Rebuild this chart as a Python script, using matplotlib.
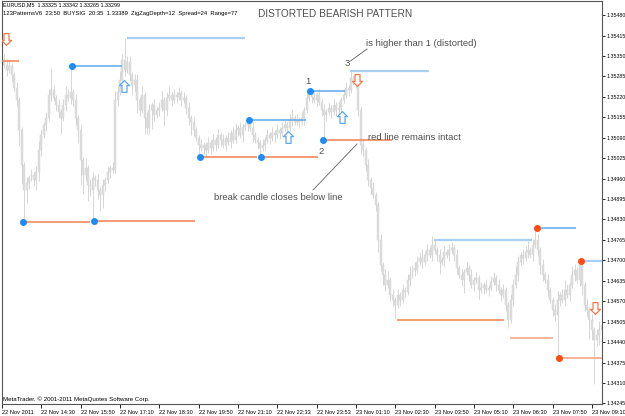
import matplotlib
matplotlib.use('Agg')
import matplotlib.pyplot as plt
from matplotlib.path import Path
from matplotlib.lines import Line2D
import numpy as np

# ---- chart data (EURUSD M5) ----
first_open = 1.35340
close = [
    1.35331, 1.35321, 1.35305, 1.35318, 1.35289, 1.35248, 1.35210, 1.35114, 1.35003, 1.34924,
    1.34946, 1.34962, 1.34971, 1.34955, 1.34981, 1.35051, 1.35098, 1.35130, 1.35152, 1.35226,
    1.35242, 1.35216, 1.35194, 1.35172, 1.35152, 1.35194, 1.35226, 1.35216, 1.35235, 1.35210,
    1.35152, 1.35114, 1.35019, 1.34971, 1.34994, 1.34939, 1.34924, 1.34962, 1.34955, 1.34924,
    1.34908, 1.34939, 1.34955, 1.34981, 1.34994, 1.34987, 1.35210, 1.35235, 1.35273, 1.35337,
    1.35305, 1.35331, 1.35289, 1.35257, 1.35273, 1.35210, 1.35178, 1.35226, 1.35152, 1.35121,
    1.35178, 1.35194, 1.35162, 1.35178, 1.35184, 1.35210, 1.35178, 1.35216, 1.35226, 1.35210,
    1.35226, 1.35219, 1.35232, 1.35210, 1.35216, 1.35184, 1.35152, 1.35140, 1.35114, 1.35089,
    1.35067, 1.35057, 1.35067, 1.35051, 1.35073, 1.35057, 1.35083, 1.35067, 1.35098, 1.35083,
    1.35067, 1.35089, 1.35076, 1.35105, 1.35083, 1.35114, 1.35121, 1.35098, 1.35124, 1.35130,
    1.35137, 1.35121, 1.35098, 1.35083, 1.35073, 1.35057, 1.35067, 1.35083, 1.35098, 1.35089,
    1.35105, 1.35098, 1.35114, 1.35105, 1.35121, 1.35130, 1.35121, 1.35146, 1.35152, 1.35140,
    1.35146, 1.35140, 1.35152, 1.35178, 1.35216, 1.35232, 1.35219, 1.35210, 1.35226, 1.35203,
    1.35178, 1.35162, 1.35172, 1.35184, 1.35172, 1.35194, 1.35178, 1.35184, 1.35210, 1.35226,
    1.35248, 1.35242, 1.35280, 1.35267, 1.35273, 1.35178, 1.35067, 1.35051, 1.35003, 1.34955,
    1.34930, 1.34908, 1.34876, 1.34765, 1.34685, 1.34653, 1.34621, 1.34637, 1.34590, 1.34574,
    1.34558, 1.34590, 1.34574, 1.34606, 1.34599, 1.34637, 1.34653, 1.34675, 1.34669, 1.34695,
    1.34707, 1.34695, 1.34717, 1.34733, 1.34717, 1.34749, 1.34733, 1.34717, 1.34695, 1.34701,
    1.34726, 1.34717, 1.34733, 1.34739, 1.34717, 1.34675, 1.34653, 1.34637, 1.34663, 1.34675,
    1.34653, 1.34621, 1.34637, 1.34644, 1.34606, 1.34612, 1.34621, 1.34606, 1.34612, 1.34631,
    1.34644, 1.34621, 1.34606, 1.34590, 1.34606, 1.34558, 1.34510, 1.34574, 1.34621, 1.34653,
    1.34695, 1.34717, 1.34707, 1.34726, 1.34733, 1.34717, 1.34749, 1.34765, 1.34733, 1.34685,
    1.34653, 1.34637, 1.34606, 1.34574, 1.34542, 1.34526, 1.34574, 1.34590, 1.34574, 1.34606,
    1.34590, 1.34621, 1.34653, 1.34669, 1.34637, 1.34685, 1.34621, 1.34558, 1.34542, 1.34510,
    1.34478, 1.34447, 1.34462, 1.34478, 1.34494,
]
# wick lengths beyond the candle body, in pips
upper_wick = [
    8, 3, 2, 2, 1, 1, 2, 1, 1, 1,
    2, 1, 2, 1, 2, 3, 2, 1, 2, 2,
    7, 2, 1, 2, 1, 2, 3, 2, 8, 1,
    2, 1, 2, 1, 3, 1, 2, 2, 1, 2,
    1, 2, 1, 2, 1, 2, 3, 2, 3, 2,
    7, 2, 2, 1, 2, 2, 1, 3, 1, 2,
    2, 1, 2, 1, 2, 3, 1, 2, 3, 1,
    2, 1, 2, 1, 2, 1, 2, 1, 2, 1,
    1, 2, 1, 1, 2, 1, 2, 1, 2, 1,
    2, 1, 2, 1, 2, 2, 1, 2, 1, 1,
    1.2, 1, 2, 1, 1, 1, 2, 1, 2, 1,
    2, 1, 2, 1, 2, 2, 1, 2, 3, 1,
    2, 1, 2, 1, 2, 0.6, 1, 2, 1, 2,
    1, 2, 1, 2, 1, 2, 1, 2, 1, 2,
    2, 1, 2.2, 1, 1, 1, 1, 2, 1, 2,
    1, 2, 1, 1, 2, 1, 2, 3, 1, 2,
    1, 2, 1, 2, 1, 2, 3, 1, 2, 2,
    2, 3, 1, 2, 1, 3, 2, 1, 2, 1,
    2, 1, 2, 2, 1, 2, 1, 2, 1, 2,
    1, 2, 1, 2, 1, 2, 1, 2, 1, 2,
    2, 1, 2, 1, 2, 1, 1, 2, 2, 3,
    2, 1, 2, 2, 3, 1, 2, 4, 2, 1,
    2, 1, 2, 1, 1, 2, 3, 1, 2, 3,
    2, 1, 3, 2, 1, 1.3, 2, 1, 2, 1,
    2, 1, 2, 3, 2,
]
lower_wick = [
    2, 1, 2, 1, 2, 1, 2, 5, 6, 10,
    4, 2, 1, 2, 3, 3, 2, 1, 2, 1,
    2, 1, 2, 2, 5, 1, 2, 1, 2, 2,
    2, 4, 8, 6, 2, 5, 2, 10, 2, 3,
    5, 4, 2, 1, 2, 1, 1, 2, 1, 2,
    2, 1, 2, 3, 2, 4, 2, 1, 5, 2,
    2, 6, 2, 1, 2, 1, 5, 2, 1, 2,
    1, 2, 1, 2, 1, 2, 2, 4, 2, 1,
    4, 1, 2, 2, 1, 2, 1, 2, 1, 2,
    1, 2, 1, 2, 1, 1, 2, 1, 2, 1,
    2, 1, 2, 1, 2, 3, 1, 2, 1, 2,
    1, 2, 1, 2, 1, 1, 2, 1, 2, 1,
    1, 2, 1, 2, 1, 1, 2, 1, 2, 1,
    2, 8, 2, 1, 2, 1, 2, 1, 2, 1,
    1, 2, 1, 1, 2, 2, 3, 2, 2, 2,
    2, 1, 2, 4, 2, 3, 2, 1, 2, 2,
    4, 1, 2, 1, 2, 1, 2, 1, 2, 1,
    1, 2, 1, 2, 1, 2, 1, 2, 4, 1,
    2, 1, 2, 1, 2, 2, 1, 2, 4, 1,
    2, 1, 2, 1, 3, 1, 2, 1, 2, 1,
    1, 2, 1, 2, 1, 2, 2.6, 1, 2, 1,
    2, 1, 2, 1, 2, 1, 2, 1, 2, 3,
    2, 1, 2, 1, 2, 2, 14, 2, 1, 2,
    1, 2, 1, 2, 1, 2, 3, 2, 2, 6,
    3, 14, 2, 3, 2,
]

time_labels = ['22 Nov 2011', '22 Nov 14:30', '22 Nov 15:50', '22 Nov 17:10', '22 Nov 18:30',
               '22 Nov 19:50', '22 Nov 21:10', '22 Nov 22:33', '22 Nov 23:53', '23 Nov 01:10',
               '23 Nov 02:30', '23 Nov 03:50', '23 Nov 05:10', '23 Nov 06:30', '23 Nov 07:50',
               '23 Nov 09:10']
bars_per_label = 16
price_ticks = [1.34245 + 0.00065 * k for k in range(20)]

# pattern levels: start bar, end bar, price, kind
level_start = [0, 28.5, 50.8, 8.5, 37.4, 80.5, 105.3, 100.5, 125.3, 130.6,
               141.5, 175.7, 160.7, 206.6, 217.6, 235.5, 226.6]
level_end = [6.9, 48.8, 98.8, 35.8, 78.5, 103.7, 128.5, 123.7, 139.5, 158.6,
             173.7, 215.6, 204.2, 224.1, 233.5, 245.0, 245.0]
level_price = [1.35334, 1.35318, 1.35407, 1.34822, 1.34825, 1.35028, 1.35028, 1.35146, 1.35238, 1.35083,
               1.35302, 1.34765, 1.34510, 1.34453, 1.34803, 1.34698, 1.34389]
level_kind = ['res', 'sup', 'sup_old', 'res', 'res', 'res', 'res', 'sup', 'sup', 'res',
              'sup_old', 'sup_old', 'res', 'res_old', 'sup', 'sup_old', 'res_old']

# swing points (dots)
swing_bar = [28.5, 8.5, 37.4, 80.5, 105.3, 100.5, 125.3, 130.6, 217.6, 235.5, 226.6]
swing_price = [1.35318, 1.34822, 1.34825, 1.35028, 1.35028, 1.35146, 1.35238, 1.35083, 1.34803, 1.34698, 1.34389]
swing_side = ['buy'] * 8 + ['sell'] * 3

# signal arrows
arrow_bar = [1.6, 49.6, 116.3, 138.3, 144.4, 241.2]
arrow_price = [1.35404, 1.35254, 1.35092, 1.35156, 1.35273, 1.34548]
arrow_dir = ['down', 'up', 'up', 'up', 'down', 'down']

# ---- styles ----
level_colors = {'res': '#f2804f', 'res_old': '#f5a888', 'sup': '#5fa8ee', 'sup_old': '#a9d0f3'}
level_widths = {'res': 1.1, 'res_old': 1.2, 'sup': 1.1, 'sup_old': 1.6}
dot_colors = {'buy': '#1e8cf5', 'sell': '#ff4a12'}
arrow_colors = {'up': '#5aa8f0', 'down': '#f27a4a'}
text_gray = '#505050'
tick_font = ['Liberation Sans Narrow', 'Liberation Sans', 'DejaVu Sans']
note_font = ['Liberation Sans', 'DejaVu Sans']

W, H = 625, 416


def px(x, y):
    """pixel position in the screenshot -> figure fraction"""
    return x / W, 1 - y / H


fig = plt.figure(figsize=(W / 100, H / 100), dpi=100)
fig.patch.set_facecolor('white')
ax = fig.add_axes([2 / W, 12 / H, 600 / W, 403 / H])

# candles
c = np.array(close)
o = np.concatenate([[first_open], c[:-1]])
idx = np.arange(len(c))
top = np.maximum(o, c)
bot = np.minimum(o, c)
hi = top + np.array(upper_wick) * 0.0001
lo = bot - np.array(lower_wick) * 0.0001
ax.vlines(idx, lo, hi, color='#d6d6d6', linewidth=0.7, zorder=1)
ax.bar(idx, np.maximum(top - bot, 0.00002), bottom=bot, width=0.8,
       color='#dedede', edgecolor='#d2d2d2', linewidth=0.3, zorder=2)

# levels
for s, e, p, k in zip(level_start, level_end, level_price, level_kind):
    ax.plot([s, e], [p, p], color=level_colors[k], linewidth=level_widths[k],
            solid_capstyle='butt', zorder=3)

# dots
for b, p, side in zip(swing_bar, swing_price, swing_side):
    ax.plot(b, p, 'o', color=dot_colors[side], markersize=4, zorder=4)

# hollow arrows
up_arrow = Path([(0, 1), (0.85, 0.15), (0.42, 0.15), (0.42, -1), (-0.42, -1),
                 (-0.42, 0.15), (-0.85, 0.15), (0, 1)],
                [Path.MOVETO] + [Path.LINETO] * 6 + [Path.CLOSEPOLY])
down_arrow = Path(up_arrow.vertices * np.array([1, -1]), up_arrow.codes)
for b, p, d in zip(arrow_bar, arrow_price, arrow_dir):
    ax.plot(b, p, marker=up_arrow if d == 'up' else down_arrow, markersize=8.5,
            markerfacecolor='white', markeredgecolor=arrow_colors[d],
            markeredgewidth=0.9, linestyle='none', zorder=5)

# axes
ax.set_xlim(0, 244.1)
ax.set_ylim(1.34243, 1.35525)
ax.set_facecolor('white')
for sp in ax.spines.values():
    sp.set_color('#555555')
    sp.set_linewidth(0.8)
ax.yaxis.tick_right()
ax.set_yticks(price_ticks)
ax.set_yticklabels([f'{v:.5f}' for v in price_ticks], family=tick_font, fontsize=3.8)
ax.tick_params(axis='y', length=2, width=0.6, pad=1.0, colors='black')
ax.set_xticks([i * bars_per_label for i in range(len(time_labels))])
ax.set_xticklabels(time_labels, family=tick_font, fontsize=4.1, ha='left')
ax.tick_params(axis='x', length=3, width=0.6, pad=1.5, colors='black')

# header texts
fig.text(*px(3, 5), 'EURUSD,M5  1.33325 1.33342 1.33265 1.33299', family=tick_font,
         fontsize=3.9, va='center', ha='left', color='black')
fig.text(*px(3, 13.5), '123PatternsV6  23:50  BUYSIG  20:35  1.33389  ZigZagDepth=12  Spread=24  Range=77',
         family=tick_font, fontsize=4.2, va='center', ha='left', color='black')
fig.text(*px(3, 399), 'MetaTrader. \u00a9 2001-2011 MetaQuotes Software Corp.', family=tick_font,
         fontsize=4.4, va='center', ha='left', color='black')

# annotations
fig.text(*px(258, 14), 'DISTORTED BEARISH PATTERN', family=note_font, fontsize=7.3,
         va='center', ha='left', color=text_gray)
notes = [((366, 44), 'is higher than 1 (distorted)'),
         ((347, 63), '3'),
         ((308, 82), '1'),
         ((321, 151), '2'),
         ((368, 137), 'red line remains intact'),
         ((214, 198), 'break candle closes below line')]
for (x, y), t in notes:
    fig.text(*px(x, y), t, family=note_font, fontsize=6.8, va='center',
             ha='center' if len(t) == 1 else 'left', color=text_gray)
leaders = [((350.5, 61), (367, 49)), ((313, 190), (357, 144))]
for (x0, y0), (x1, y1) in leaders:
    fig.add_artist(Line2D([x0 / W, x1 / W], [1 - y0 / H, 1 - y1 / H],
                          transform=fig.transFigure, color='#606060', linewidth=0.6))

fig.savefig('out.png', dpi=100, facecolor='white')
